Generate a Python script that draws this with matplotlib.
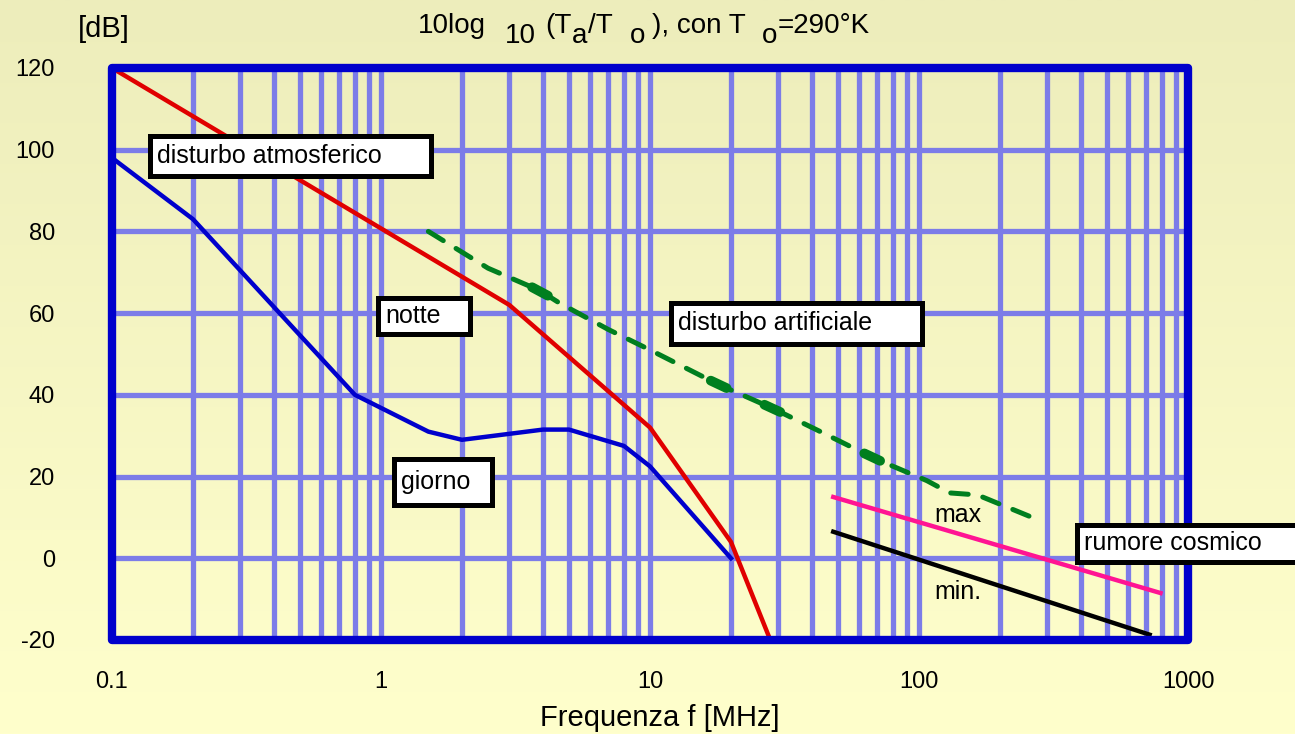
import numpy as np
import matplotlib
matplotlib.use('Agg')
import matplotlib.pyplot as plt
from matplotlib.patches import Rectangle
from matplotlib.colors import LinearSegmentedColormap

plt.rcParams['font.family'] = ['Liberation Sans', 'DejaVu Sans']
plt.rcParams['axes.unicode_minus'] = False

# curves (f in MHz, level in dB)
notte_f = [0.1, 3, 10, 20, 28]
notte_db = [120, 62, 32, 4, -20]

giorno_f = [0.1, 0.2, 0.8, 1.5, 2, 4, 5, 8, 10, 20]
giorno_db = [98, 83, 40, 31, 29, 31.5, 31.5, 27.5, 22.5, 0]

artif_f = [1.5, 2.5, 3.9, 4.6, 7, 10, 18, 22, 29, 43, 68, 107, 130, 165, 275]
artif_db = [80, 71, 65.5, 62.5, 56, 51, 42.5, 40, 36.5, 31, 24.5, 19, 16, 15.5, 9.5]
blob_f = [3.9, 18, 28.5, 67]

cosm_max_f = [48, 790]
cosm_max_db = [15, -8.5]
cosm_min_f = [48, 720]
cosm_min_db = [6.5, -18.7]

x_ticks = [0.1, 1, 10, 100, 1000]
x_labels = ['0.1', '1', '10', '100', '1000']
y_ticks = [-20, 0, 20, 40, 60, 80, 100, 120]

fig = plt.figure(figsize=(12.95, 7.34), dpi=100)

# pale yellow gradient background
bg = fig.add_axes([0, 0, 1, 1], zorder=-10)
cmap = LinearSegmentedColormap.from_list('bg', ['#EDEDBB', '#FFFFCC'])
bg.imshow(np.linspace(0, 1, 256).reshape(-1, 1), cmap=cmap, aspect='auto',
          extent=[0, 1, 0, 1], origin='upper')
bg.axis('off')

ax = fig.add_axes([112/1295, 1 - 640/734, 1076/1295, 572/734])
ax.patch.set_alpha(0)
ax.set_xscale('log')
ax.set_xlim(0.1, 1000)
ax.set_ylim(-20, 120)

grid_col = '#7c7ce8'
ax.set_xticks(x_ticks)
ax.set_xticklabels(x_labels)
ax.set_yticks(y_ticks)
ax.xaxis.set_minor_locator(matplotlib.ticker.LogLocator(base=10, subs=np.arange(2, 10)))
ax.xaxis.set_minor_formatter(matplotlib.ticker.NullFormatter())
ax.grid(True, which='both', axis='x', color=grid_col, lw=3.8)
ax.grid(True, which='major', axis='y', color=grid_col, lw=3.8)
ax.set_axisbelow(True)
ax.tick_params(which='both', length=0, labelsize=17)
ax.tick_params(axis='y', pad=41)
ax.tick_params(axis='x', pad=22)
for s in ax.spines.values():
    s.set_visible(False)

ax.plot(notte_f, notte_db, color='#e00000', lw=3.2, zorder=3)
ax.plot(giorno_f, giorno_db, color='#0000cc', lw=3.2, zorder=3)
ax.plot(artif_f, artif_db, color='#007f1f', lw=3.6, dashes=(3.5, 3),
        dash_capstyle='round', zorder=3)
lf = np.log10(artif_f)
for b in blob_f:
    seg = np.array([b / 1.07, b * 1.07])
    ax.plot(seg, np.interp(np.log10(seg), lf, artif_db), color='#007f1f',
            lw=7, solid_capstyle='round', zorder=3)
ax.plot(cosm_max_f, cosm_max_db, color='#ff1493', lw=3.2, zorder=3)
ax.plot(cosm_min_f, cosm_min_db, color='black', lw=3.2, zorder=3)

# frame with rounded corners
ax.add_patch(Rectangle((0, 0), 1, 1, transform=ax.transAxes, fill=False,
                       edgecolor='#0000cc', lw=6, joinstyle='round',
                       clip_on=False, zorder=6))

# boxed labels: (text, f_left, f_right, db_bottom, db_top)
boxes = [
    ('disturbo atmosferico', 0.138, 1.53, 93.5, 103.4),
    ('notte', 0.975, 2.15, 55.0, 63.8),
    ('giorno', 1.12, 2.58, 13.0, 24.4),
    ('disturbo artificiale', 12.0, 103, 52.4, 62.6),
    ('rumore cosmico', 388, 2700, -0.8, 8.2),
]
for txt, f0, f1, d0, d1 in boxes:
    ax.add_patch(Rectangle((f0, d0), f1 - f0, d1 - d0, facecolor='white',
                           edgecolor='black', lw=3.6, clip_on=False, zorder=7))
    ax.annotate(txt, xy=(f0, (d0 + d1) / 2), xytext=(7, 0),
                textcoords='offset pixels', va='center', ha='left',
                fontsize=18, zorder=8, annotation_clip=False)

ax.text(114, 10.6, 'max', fontsize=18, va='center', zorder=5)
ax.text(114, -8.3, 'min.', fontsize=18, va='center', zorder=5)

fig.text(104/1295, 1 - 29/734, '[dB]', fontsize=21, ha='center', va='center')
fig.text(660/1295, 1 - 718/734, 'Frequenza f [MHz]', fontsize=21,
         ha='center', va='center')

# title built piece by piece, subscripts at full size but lowered
pieces = ['10log', '10', '(T', 'a', '/T', 'o', '), con T', 'o', '=290°K']
piece_x = [418, 505, 545, 572, 588, 630, 652, 762, 778]
lowered = [0, 1, 0, 1, 0, 1, 0, 1, 0]
for p, px, low in zip(pieces, piece_x, lowered):
    fig.text(px / 1295, 1 - (33 + 10 * low) / 734, p, fontsize=20,
             ha='left', va='baseline')

fig.savefig('out.png', dpi=100)
